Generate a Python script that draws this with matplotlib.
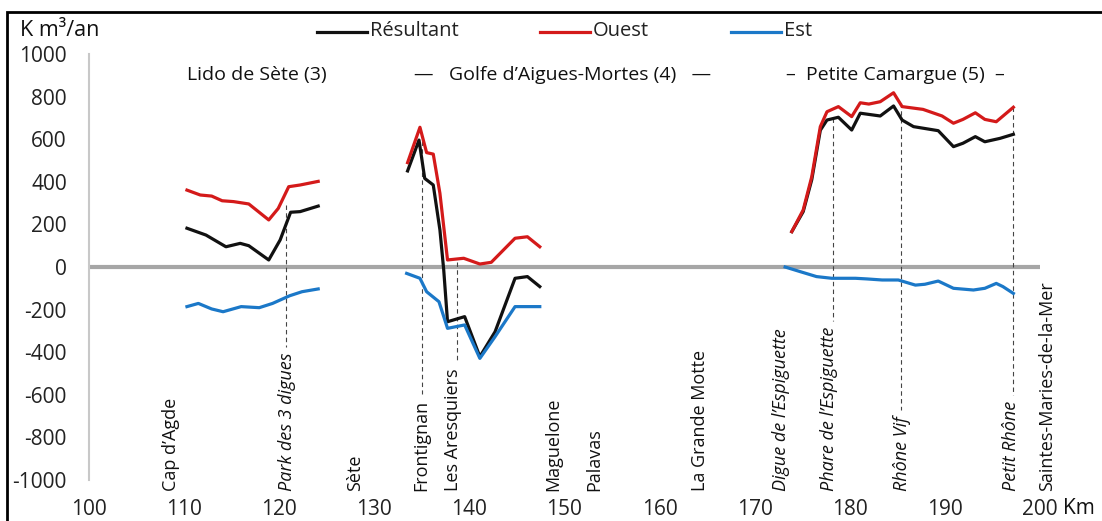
import matplotlib
matplotlib.use("Agg")
import matplotlib.pyplot as plt
from matplotlib.lines import Line2D
from matplotlib.patches import Rectangle

plt.rcParams['font.family'] = ['Open Sans', 'DejaVu Sans']
plt.rcParams['axes.unicode_minus'] = False

km_res_3 = [110.3, 112.3, 114.4, 115.9, 116.8, 118.9, 120.1, 121.2, 122.2, 124.1]
res_3 = [182, 150, 95, 111, 100, 33, 127, 257, 260, 286]
km_oue_3 = [110.3, 111.7, 112.9, 114.0, 115.2, 116.8, 118.9, 119.9, 121.0, 122.2, 124.1]
oue_3 = [361, 338, 333, 311, 307, 296, 221, 275, 377, 385, 402]
km_est_3 = [110.3, 111.5, 112.9, 114.1, 116.0, 117.9, 119.3, 121.1, 122.4, 124.1]
est_3 = [-186, -171, -197, -210, -186, -191, -171, -135, -116, -103]

# Golfe d'Aigues-Mortes (4)
km_res_4 = [133.5, 134.7, 135.3, 136.2, 136.9, 137.3, 137.7, 139.5, 141.1, 142.7, 144.8, 146.1, 147.4]
res_4 = [451, 596, 416, 385, 174, -14, -257, -233, -421, -304, -53, -45, -92]
km_oue_4 = [133.5, 134.8, 135.5, 136.2, 136.9, 137.7, 139.4, 141.1, 142.3, 144.8, 146.1, 147.4]
oue_4 = [490, 656, 537, 530, 346, 33, 41, 14, 22, 135, 142, 95]
km_est_4 = [133.4, 134.8, 135.5, 136.8, 137.7, 139.5, 141.1, 142.7, 144.8, 147.4]
est_4 = [-30, -53, -116, -163, -288, -272, -429, -327, -186, -186]

# Petite Camargue (5)
km_res_5 = [173.9, 175.1, 176.0, 176.9, 177.6, 178.8, 180.2, 181.1, 183.2, 184.6, 185.5, 186.7,
            189.3, 190.9, 191.9, 193.2, 194.2, 195.8, 197.2]
res_5 = [166, 260, 410, 642, 690, 703, 643, 722, 709, 756, 690, 659,
         640, 565, 581, 612, 588, 604, 623]
km_oue_5 = [173.9, 175.1, 176.0, 176.9, 177.6, 178.8, 180.2, 181.1, 182.0, 183.2, 184.6, 185.5,
            187.7, 189.7, 190.9, 191.9, 193.2, 194.2, 195.4, 197.2]
oue_5 = [166, 268, 424, 659, 729, 753, 706, 771, 765, 776, 818, 753,
         740, 709, 675, 693, 724, 693, 682, 750]
km_est_5 = [173.2, 174.8, 176.5, 178.1, 180.6, 181.8, 183.4, 185.1, 186.9, 187.9, 189.3, 190.9,
            193.0, 194.2, 195.4, 196.1, 197.2]
est_5 = [0, -22, -45, -53, -53, -56, -61, -61, -85, -81, -66, -100,
         -108, -100, -77, -92, -124]

# place names along the coast
places = ["Cap d\u2019Agde", "Park des 3 digues", "S\u00e8te", "Frontignan", "Les Aresquiers",
          "Maguelone", "Palavas", "La Grande Motte", "Digue de l\u2019Espiguette",
          "Phare de l\u2019Espiguette", "Rh\u00f4ne Vif", "Petit Rh\u00f4ne", "Saintes-Maries-de-la-Mer"]
places_km = [108.6, 120.8, 128.0, 134.9, 138.3, 148.8, 153.1, 164.2, 172.8, 177.8, 185.5, 197.0, 200.7]
places_italic = [False, True, False, False, False, False, False, False, True, True, True, True, False]

# dashed markers: km, top value
mark_km = [120.7, 135.0, 138.7, 178.2, 185.4, 197.2]
mark_top = [290, 590, 25, 700, 770, 750]
mark_label = [1, 3, 4, 9, 10, 11]

sectors = ["Lido de S\u00e8te (3)", "\u2014   Golfe d\u2019Aigues-Mortes (4)   \u2014",
           "\u2013  Petite Camargue (5)  \u2013"]
sectors_km = [117.6, 149.8, 184.8]

series_names = ["R\u00e9sultant", "Ouest", "Est"]
colors = ["#111111", "#d41a1a", "#1b78c8"]

W, H = 1102, 521
fig = plt.figure(figsize=(W / 100, H / 100), dpi=100)
ax = fig.add_axes([89 / W, 41 / H, (1040 - 89) / W, (480 - 54) / H])

ax.axhline(0, color="#a6a6a6", lw=3, zorder=1)

lw = 2.3
for kms, vals, c in [(km_res_3, res_3, colors[0]), (km_res_4, res_4, colors[0]), (km_res_5, res_5, colors[0]),
                     (km_oue_3, oue_3, colors[1]), (km_oue_4, oue_4, colors[1]), (km_oue_5, oue_5, colors[1]),
                     (km_est_3, est_3, colors[2]), (km_est_4, est_4, colors[2]), (km_est_5, est_5, colors[2])]:
    ax.plot(kms, vals, color=c, lw=lw, zorder=3, solid_joinstyle="round")

ax.set_xlim(100, 200)
ax.set_ylim(-1000, 1000)
ax.set_xticks(range(100, 201, 10))
ax.set_yticks(range(-1000, 1001, 200))
ax.tick_params(axis="both", length=0, labelsize=15, colors="#222222")
ax.tick_params(axis="x", pad=14)
ax.tick_params(axis="y", pad=16)
for s in ["top", "right", "bottom"]:
    ax.spines[s].set_visible(False)
ax.spines["left"].set_color("#c8c8c8")
ax.spines["left"].set_linewidth(1.5)

txts = []
for name, k, it in zip(places, places_km, places_italic):
    t = ax.text(k, -1052, name, rotation=90, ha="center", va="bottom", fontsize=13,
                fontstyle="italic" if it else "normal", color="#111111", clip_on=False)
    txts.append(t)

for name, k in zip(sectors, sectors_km):
    ax.text(k, 900, name, ha="center", va="center", fontsize=14, color="#111111")

fig.canvas.draw()
inv = ax.transData.inverted()
for k, top, li in zip(mark_km, mark_top, mark_label):
    bb = txts[li].get_window_extent()
    ybot = inv.transform((0, bb.y1 + 6))[1]
    ax.plot([k, k], [top, ybot], color="#444444", lw=0.8, ls=(0, (4, 3)), zorder=2, clip_on=False)

# legend drawn by hand (uneven spacing in the original)
leg_x = [317, 540, 731]
for name, c, x0 in zip(series_names, colors, leg_x):
    fig.add_artist(Line2D([x0 / W, (x0 + 50) / W], [1 - 32 / H, 1 - 32 / H], color=c, lw=lw))
    fig.text((x0 + 53) / W, 1 - 31 / H, name, ha="left", va="center", fontsize=14.5, color="#222222")

fig.text(20 / W, 1 - 31 / H, "K m\u00b3/an", ha="left", va="center", fontsize=15.5, color="#111111")
fig.text(1063 / W, 1 - 509 / H, "Km", ha="left", va="center", fontsize=15, color="#111111")

fig.add_artist(Rectangle((7 / W, -0.1), 1.2, 1 - 12 / H + 0.1, fill=False, ec="black", lw=2,
                         transform=fig.transFigure))

fig.savefig("out.png", dpi=100)
